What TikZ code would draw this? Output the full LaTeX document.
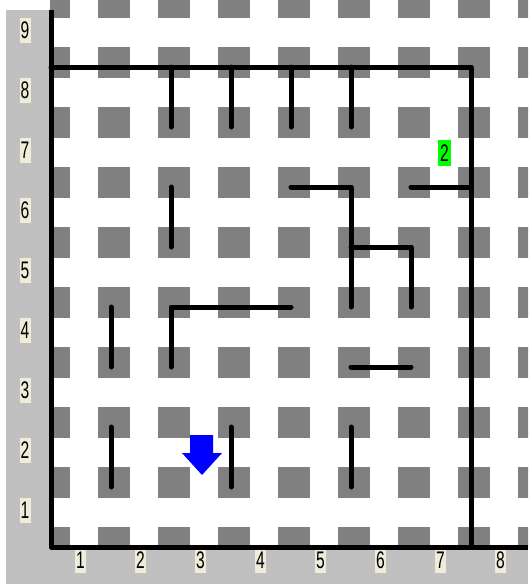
\documentclass[tikz,border=0pt]{standalone}
\usepackage{tikz, graphicx}
\usepackage{fontspec}
\setmainfont{Liberation Sans}
\tikzset{>=latex}
\definecolor{margingray}{RGB}{192,192,192}
\definecolor{squaregray}{RGB}{128,128,128}
\definecolor{labelbeige}{RGB}{240,236,218}
\tikzset{
  wall/.style={line width=5pt, line cap=round, line join=round, black},
  sq/.style={fill=squaregray},
  numbox/.style={fill=labelbeige, inner sep=0pt, minimum width=11pt, minimum height=25pt, font=\fontsize{24}{24}\selectfont},
  tag/.style={fill=green, inner sep=0pt, minimum width=13pt, minimum height=26pt, font=\fontsize{24}{24}\selectfont}
}

\begin{document}
\begin{tikzpicture}[x=1pt, y=-1pt]
\useasboundingbox (0,0) rectangle (528,584);
\fill[white] (0,0) rectangle (528,584);

% gray squares on the grid points
\begin{scope}
\clip (50,0) rectangle (528,547);
\foreach \i in {0,...,8}
  \foreach \j in {0,...,9}
    \fill[sq] (38+60*\i, -13+60*\j) rectangle ++(32,31);
\end{scope}

% margins
\fill[margingray] (6,10) rectangle (49,584);
\fill[margingray] (6,549) rectangle (528,584);

% row and column numbers
\foreach \r in {1,...,9}
  \node[numbox] (row\r) at (25, 30.5+60*9-60*\r) {\scalebox{.65}[1]{\r}};
\foreach \c in {1,...,8}
  \node[numbox] (col\c) at (20.5+60*\c, 560.5) {\scalebox{.65}[1]{\c}};

% outer walls
\draw[wall, line cap=butt] (51,10) -- (51,547) -- (528,547);
\draw[wall] (51,67) -- (471,67) -- (471,547);

% inner walls
\foreach \k in {2,...,5}
  \draw[wall] (51+60*\k, 67) -- (51+60*\k, 127);
\draw[wall] (171,187) -- (171,247);
\draw[wall] (291,187) -- (351,187) -- (351,307);
\draw[wall] (351,247) -- (411,247) -- (411,307);
\draw[wall] (411,187) -- (471,187);
\draw[wall] (291,307) -- (171,307) -- (171,367);
\draw[wall] (111,307) -- (111,367);
\draw[wall] (351,367) -- (411,367);
\draw[wall] (111,427) -- (111,487);
\draw[wall] (231,427) -- (231,487);
\draw[wall] (351,427) -- (351,487);

% robot facing down
\fill[blue] (190,435) -- (213,435) -- (213,453) -- (222,453) -- (202,475) -- (182,453) -- (190,453) -- cycle;

% beeper count
\node[tag] (beeper) at (444.5,153) {\scalebox{.65}[1]{2}};
\end{tikzpicture}
\end{document}
